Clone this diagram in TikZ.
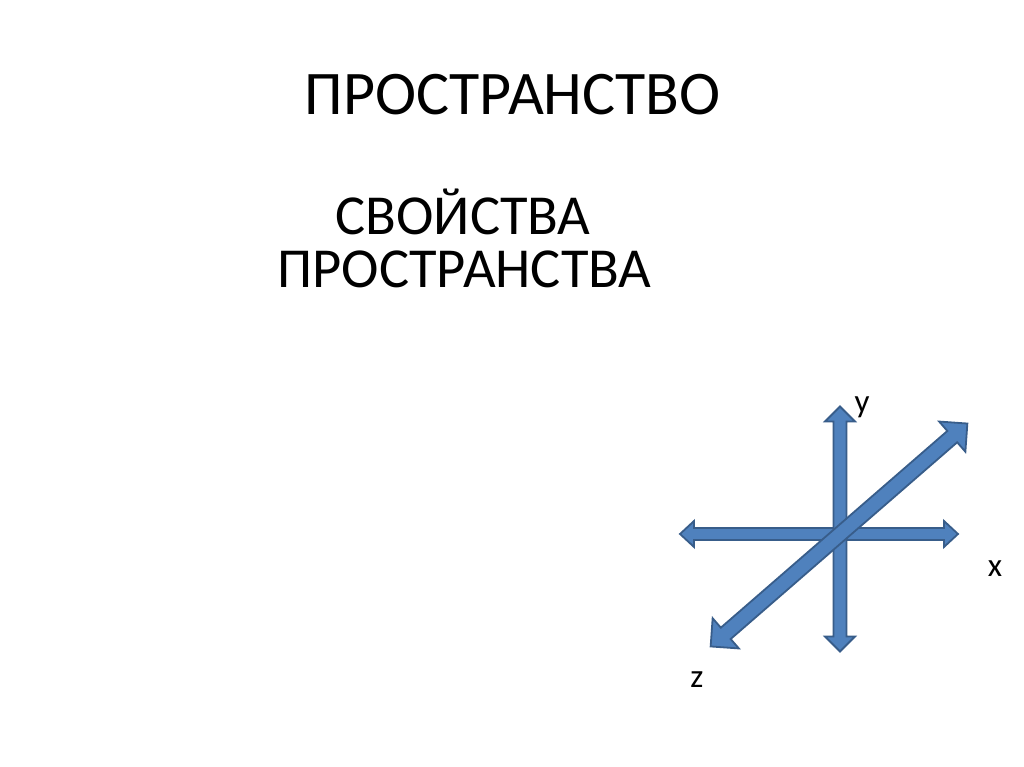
\documentclass[tikz,border=0pt]{standalone}
\usepackage{fontspec}
\setmainfont{Carlito}
\definecolor{axfill}{HTML}{4F81BD}
\definecolor{axline}{HTML}{385D8A}
\newcommand\blkarrow[4]{%
  \draw[axisarrow] (-#1,0) -- (-#1+#4,#3) -- (-#1+#4,#2) -- (#1-#4,#2) -- (#1-#4,#3) -- (#1,0)
    -- (#1-#4,-#3) -- (#1-#4,-#2) -- (-#1+#4,-#2) -- (-#1+#4,-#3) -- cycle;}
\tikzset{
  axisarrow/.style={fill=axfill, draw=axline, line width=1.8pt, line join=miter},
  titletext/.style={inner sep=0pt, anchor=base, font=\fontsize{62}{62}\selectfont},
  subtext/.style={inner sep=0pt, anchor=base, font=\fontsize{56.5}{56.5}\selectfont},
  axlabel/.style={inner sep=0pt, anchor=base, font=\fontsize{33}{33}\selectfont}
}
\begin{document}
\begin{tikzpicture}[x=1pt,y=1pt]
\useasboundingbox[fill=white] (0,0) rectangle (1024,767);
\node[titletext] (title) at (512.5,652) {ПРОСТРАНСТВО};
\node[subtext] (sub1) at (463,532) {СВОЙСТВА};
\node[subtext] (sub2) at (464.5,479) {ПРОСТРАНСТВА};
% x axis
\begin{scope}[shift={(819,233)}]
  \blkarrow{139}{6}{13}{14}
\end{scope}
% y axis
\begin{scope}[shift={(840,238)}, rotate=90]
  \blkarrow{122.5}{6.5}{15}{15}
\end{scope}
% z axis
\begin{scope}[shift={(839,232)}, rotate=40.97]
  \blkarrow{170}{7.5}{20}{20}
\end{scope}
\node[axlabel] (ylab) at (862,354) {y};
\node[axlabel] (xlab) at (995,190) {x};
\node[axlabel] (zlab) at (697,79) {z};
\end{tikzpicture}
\end{document}
